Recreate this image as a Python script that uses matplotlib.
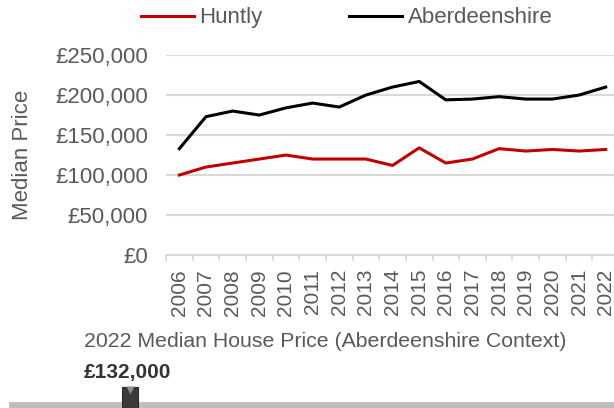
import numpy as np
from matplotlib import pyplot as plt
from matplotlib.ticker import FuncFormatter

plt.rcParams['font.family'] = ['Liberation Sans', 'DejaVu Sans']

years = [str(y) for y in range(2006, 2023)]
huntly = [100000, 110000, 115000, 120000, 125000, 120000, 120000, 120000, 112000,
          134000, 115000, 120000, 133000, 130000, 132000, 130000, 132000]
aberdeenshire = [133000, 173000, 180000, 175000, 184000, 190000, 185000, 200000, 210000,
                 217000, 194000, 195000, 198000, 195000, 195000, 200000, 210000]

context_title = "2022 Median House Price (Aberdeenshire Context)"
context_value = 132000
context_range = (100000, 260000)

grey = "#595959"
grid = "#d9d9d9"

fig = plt.figure(figsize=(6.14, 4.08), dpi=100)
ax = fig.add_axes([0.2704, 0.375, 0.7378, 0.49])

x = np.arange(len(years))
ax.plot(x, huntly, color="#c00000", lw=2.2, label="Huntly")
ax.plot(x, aberdeenshire, color="black", lw=2.2, label="Aberdeenshire")

ax.set_xlim(-0.5, len(years) - 0.5)
ax.set_ylim(0, 250000)
ax.set_yticks(np.arange(0, 250001, 50000))
ax.yaxis.set_major_formatter(FuncFormatter(lambda v, p: "£{:,.0f}".format(v)))
ax.set_xticks(x)
ax.set_xticklabels(years, rotation=90)
ax.set_xticks(np.arange(-0.5, len(years), 1), minor=True)
ax.tick_params(axis="x", which="major", length=0, pad=10, labelsize=15, colors=grey)
ax.tick_params(axis="x", which="minor", length=4, width=1.2, color=grid)
ax.tick_params(axis="y", length=0, pad=13, labelsize=16, colors=grey)
ax.grid(axis="y", color=grid, lw=1.5)
ax.set_axisbelow(True)
for s in ["top", "right", "left"]:
    ax.spines[s].set_visible(False)
ax.spines["bottom"].set_color(grid)
ax.spines["bottom"].set_linewidth(1.5)
ax.set_ylabel("Median Price", fontsize=16, color=grey, va="center")
ax.yaxis.set_label_coords(-0.316, 0.5)

leg = fig.legend(loc="center", bbox_to_anchor=(0.565, 0.956), ncol=2, frameon=False,
                 fontsize=16, handlelength=2.35, handletextpad=0.27, columnspacing=3.9)
for t in leg.get_texts():
    t.set_color(grey)

fig.text(84 / 614, 0.164, context_title, ha="left", va="center", fontsize=15.3, color=grey)
fig.text(84 / 614, 0.088, "£{:,.0f}".format(context_value), ha="left", va="center",
         fontsize=15, fontweight="bold", color="#333333")

bx = fig.add_axes([9 / 614, 0, 1 - 9 / 614, 22 / 408])
bx.set_xlim(*context_range)
bx.set_ylim(0, 22)
bx.axhspan(0, 6, color="#bfbfbf", lw=0)
span = context_range[1] - context_range[0]
w = span * 16 / 605
bx.bar(context_value, 21, width=w, bottom=0, color="#3a3a3a", edgecolor="#2a2a2a", lw=0.8)
bx.plot([context_value], [18], marker="v", ms=6, color="#8c8c8c", mec="none")
bx.axis("off")

fig.savefig("out.png", dpi=100)
